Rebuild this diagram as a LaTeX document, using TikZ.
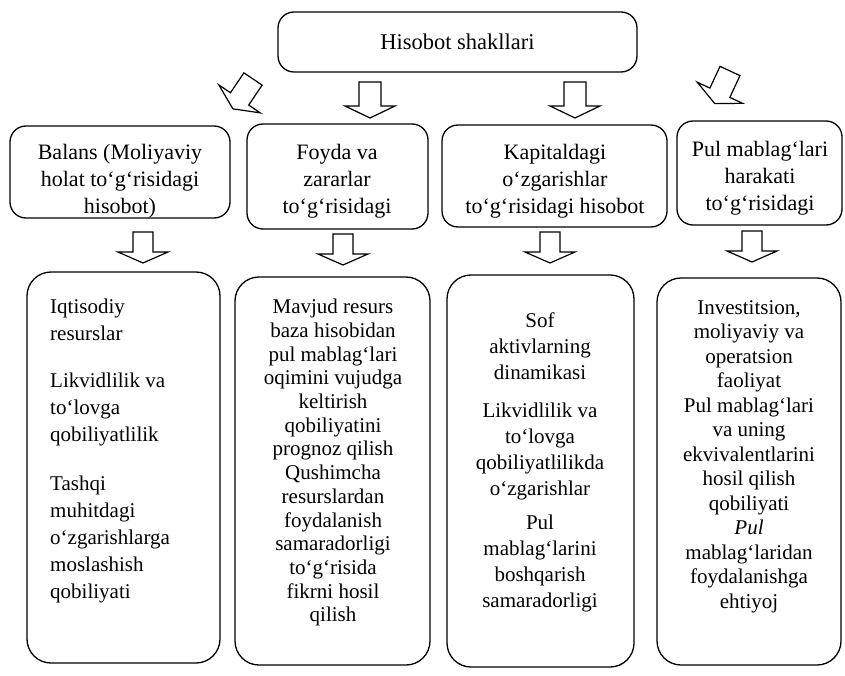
\documentclass[tikz,border=0pt]{standalone}
\usepackage{fontspec}
\setmainfont{Liberation Serif}
\begin{document}
\begin{tikzpicture}[x=1pt,y=-1pt,
  frame/.style={draw, line width=1.3pt, rounded corners=24pt, inner sep=0pt},
  headbox/.style={frame, rounded corners=16pt},
  headtxt/.style={inner sep=0pt, align=center, font=\fontsize{22}{27}\selectfont},
  bodytxt/.style={inner sep=0pt, align=center, anchor=north},
  pics/blockarrow/.style={code={
    \draw[line width=1.2pt, fill=white, line join=miter]
      (-11,0) -- (-11,24) -- (-25,24) -- (0,36) -- (25,24) -- (11,24) -- (11,0) -- cycle;}},
  pics/shortarrow/.style={code={
    \draw[line width=1.2pt, fill=white, line join=miter]
      (-10,0) -- (-10,20) -- (-25,20) -- (0,31) -- (25,20) -- (10,20) -- (10,0) -- cycle;}}
]
\useasboundingbox (0,0) rectangle (845,676);

% title box
\node[headbox, minimum width=359pt, minimum height=60pt,
      font=\fontsize{22.5}{27}\selectfont] (top) at (457.5,42) {Hisobot shakllari};

% report forms
\node[headbox, minimum width=220pt, minimum height=92pt]  (h1) at (120,172) {};
\node[headbox, minimum width=181pt, minimum height=105pt] (h2) at (337.5,176.5) {};
\node[headbox, minimum width=225pt, minimum height=102pt] (h3) at (554.5,176) {};
\node[headbox, minimum width=165pt, minimum height=104pt] (h4) at (759.5,173) {};

\node[headtxt] (ht1) at (120,181) {Balans (Moliyaviy\\holat to‘g‘risidagi\\hisobot)};
\node[headtxt] (ht2) at (337,181) {Foyda va\\zararlar\\to‘g‘risidagi};
\node[headtxt] (ht3) at (555,181) {Kapitaldagi\\o‘zgarishlar\\to‘g‘risidagi hisobot};
\node[headtxt] (ht4) at (760,178) {Pul mablag‘lari\\harakati\\to‘g‘risidagi};

% what each form shows
\node[frame, minimum width=193pt, minimum height=391pt] (b1) at (123.5,467.5) {};
\node[frame, minimum width=195pt, minimum height=388pt] (b2) at (332.5,471) {};
\node[frame, minimum width=187pt, minimum height=392pt] (b3) at (540.5,471) {};
\node[frame, minimum width=184pt, minimum height=387pt] (b4) at (749,471.5) {};

\node[bodytxt, anchor=north west, align=left, font=\fontsize{21}{27}\selectfont] (bt1) at (50,299)
  {Iqtisodiy\\resurslar\\[20pt]Likvidlilik va\\to‘lovga\\qobiliyatlilik\\[22pt]Tashqi\\muhitdagi\\o‘zgarishlarga\\moslashish\\qobiliyati};
\node[bodytxt, font=\fontsize{21}{23.7}\selectfont] (bt2) at (333,299)
  {Mavjud resurs\\baza hisobidan\\pul mablag‘lari\\oqimini vujudga\\keltirish\\qobiliyatini\\prognoz qilish\\Qushimcha\\resurslardan\\foydalanish\\samaradorligi\\to‘g‘risida\\fikrni hosil\\qilish};
\node[bodytxt, font=\fontsize{21}{26}\selectfont] (bt3) at (540,313)
  {Sof\\aktivlarning\\dinamikasi\\[12pt]Likvidlilik va\\to‘lovga\\qobiliyatlilikda\\o‘zgarishlar\\[8pt]Pul\\mablag‘larini\\boshqarish\\samaradorligi};
\node[bodytxt, font=\fontsize{21}{24.5}\selectfont] (bt4) at (749,300)
  {Investitsion,\\moliyaviy va\\operatsion\\faoliyat\\Pul mablag‘lari\\va uning\\ekvivalentlarini\\hosil qilish\\qobiliyati\\\textit{Pul}\\mablag‘laridan\\foydalanishga\\ehtiyoj};

% arrows from the title box
\pic[rotate=-34] at (253,79) {blockarrow};
\pic at (370,82) {blockarrow};
\pic at (575,82) {blockarrow};
\pic[rotate=-25] at (730,71) {blockarrow};

% arrows from each form to its contents
\pic at (143,232) {shortarrow};
\pic at (343,234) {shortarrow};
\pic at (550,232) {shortarrow};
\pic at (752,231) {shortarrow};
\end{tikzpicture}
\end{document}
